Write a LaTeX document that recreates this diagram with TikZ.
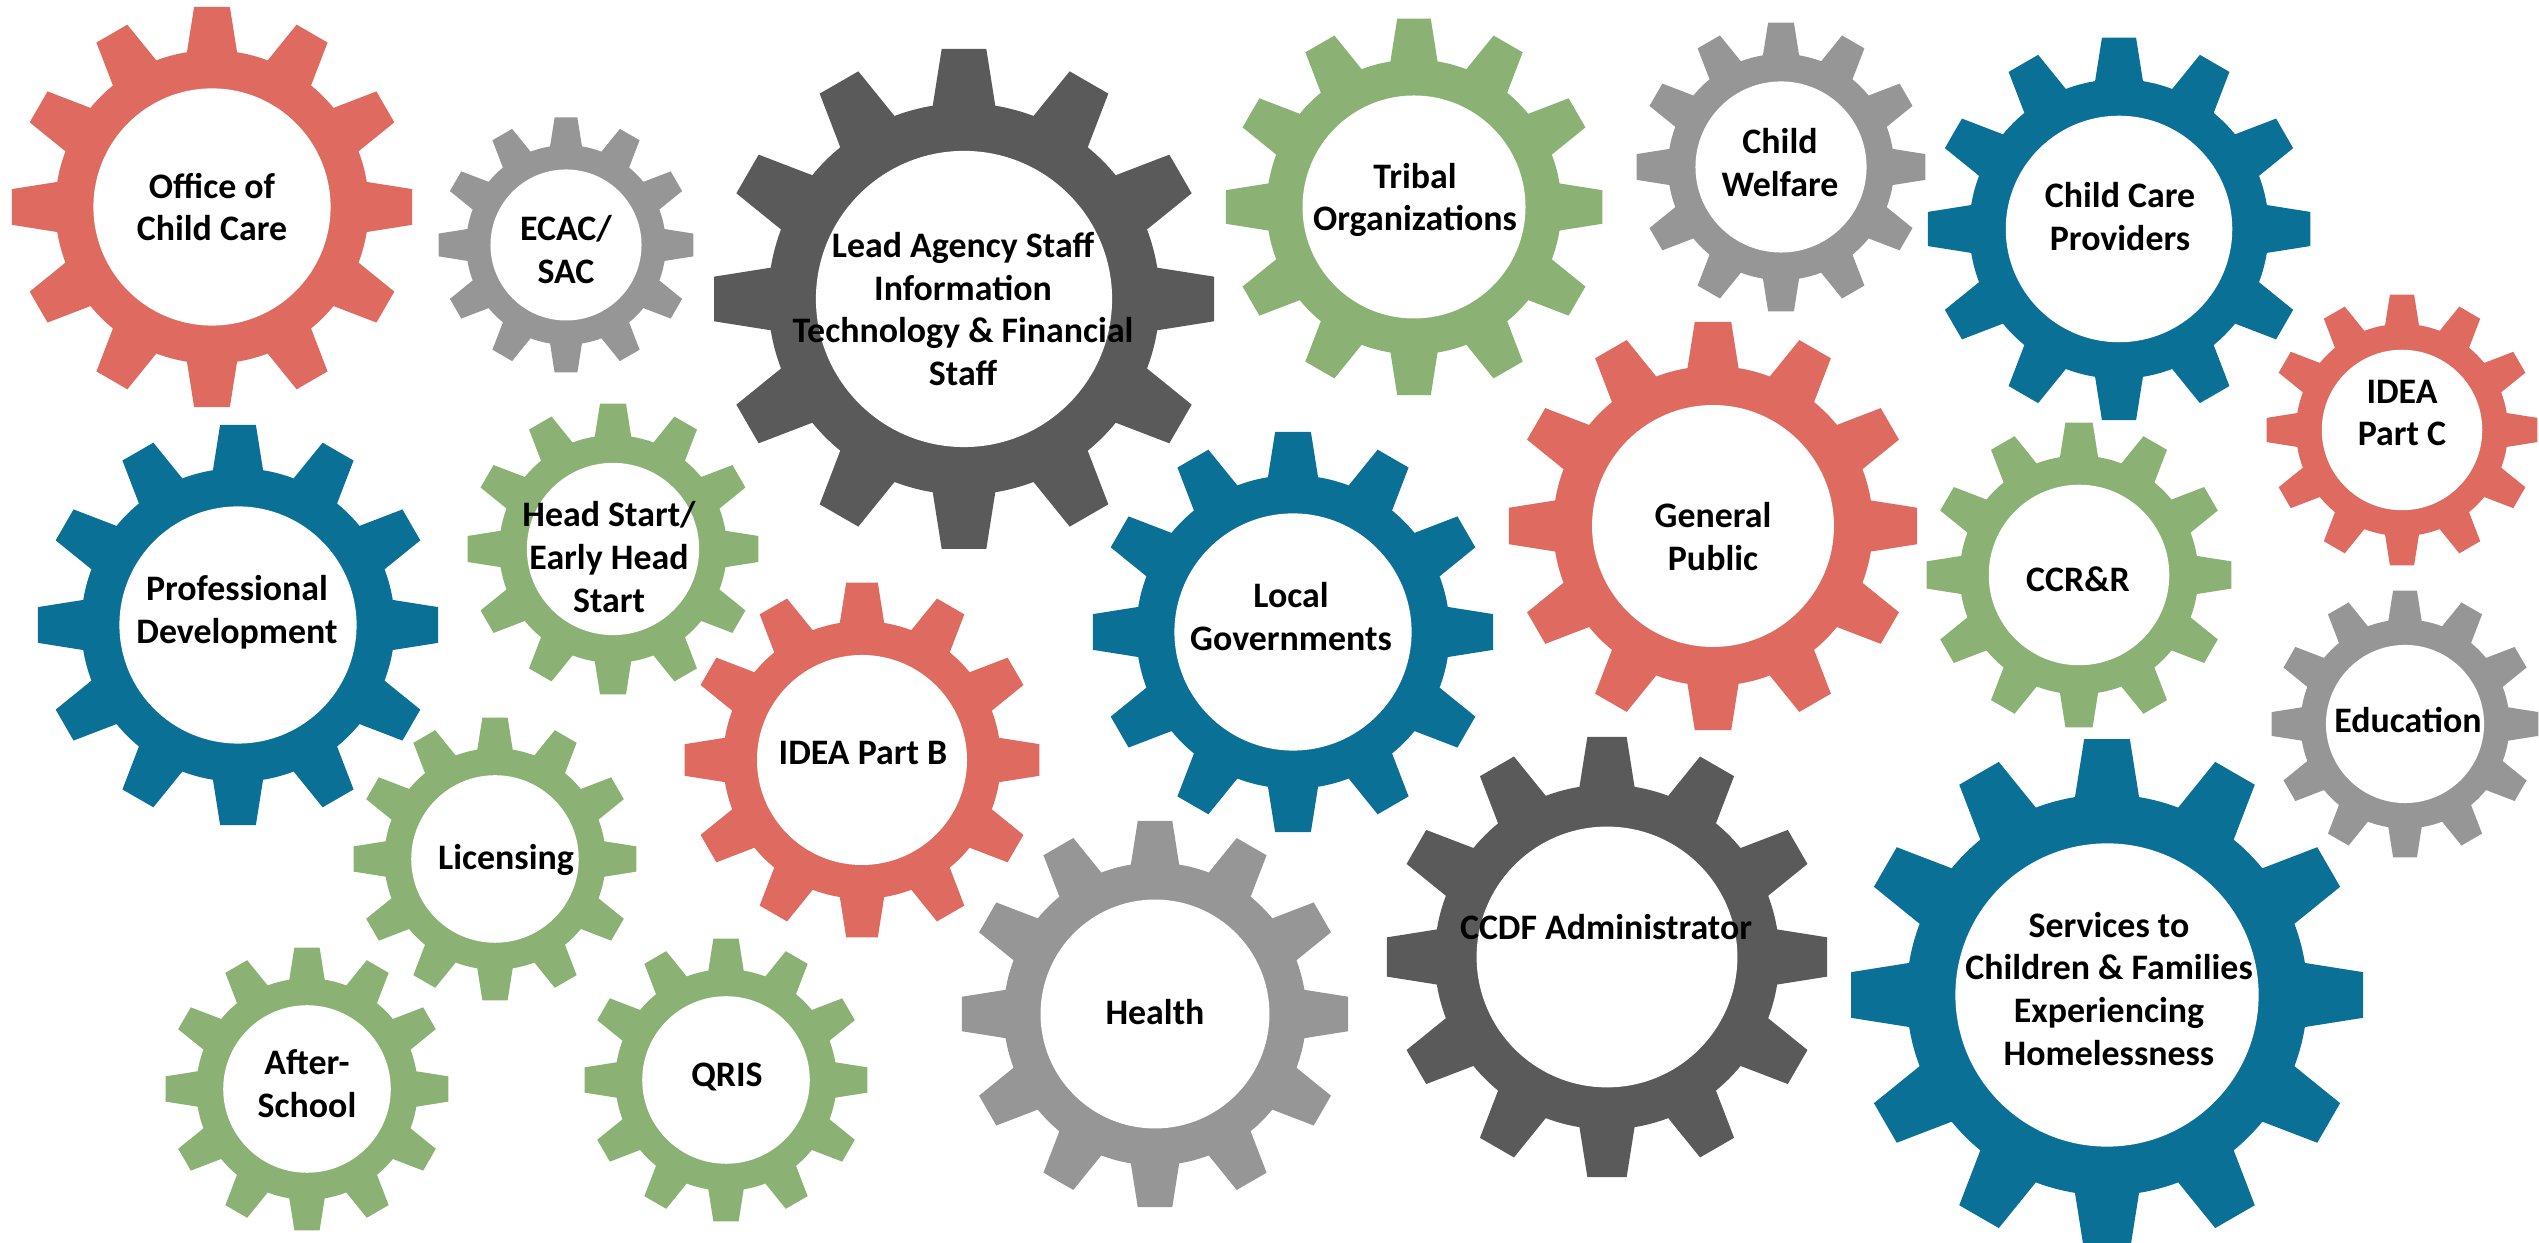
\documentclass[tikz,border=0pt]{standalone}
\usepackage{fontspec}
\setmainfont{Carlito}
\definecolor{cogred}{RGB}{222,106,96}
\definecolor{coggray}{RGB}{150,150,150}
\definecolor{cogdark}{RGB}{90,90,90}
\definecolor{coggreen}{RGB}{139,177,116}
\definecolor{cogblue}{RGB}{10,112,149}
\newcommand{\cog}[4]{%
  \fill[#4,shift={(#1,#2)}] (-9.2:{0.78*#3})
    \foreach \a in {0,30,...,330} {
      -- ({\a-5.1}:#3) -- ({\a+5.1}:#3) -- ({\a+9.2}:{0.78*#3})
      arc[start angle={\a+9.2},end angle={\a+20.8},radius={0.78*#3}]
    } -- cycle;
  \fill[white] (#1,#2) circle[radius={0.59*#3}];
}
\tikzset{lbl/.style={font=\bfseries\fontsize{10.2}{12.2}\selectfont,align=center,inner sep=0pt}}
\begin{document}
\begin{tikzpicture}[x=0.01cm,y=0.01cm]
  \useasboundingbox (0,0) rectangle (2539,1243);
  \cog{212}{1036}{201}{cogred}
  \cog{566}{998}{128}{coggray}
  \cog{964}{944}{251}{cogdark}
  \cog{1414}{1036}{189}{coggreen}
  \cog{1781}{1076}{145}{coggray}
  \cog{2119}{1014}{192}{cogblue}
  \cog{2402}{813}{136}{cogred}
  \cog{238}{618}{201}{cogblue}
  \cog{613}{694}{146}{coggreen}
  \cog{862}{483}{178}{cogred}
  \cog{1293}{611}{201}{cogblue}
  \cog{1713}{717}{205}{cogred}
  \cog{2079}{668}{153}{coggreen}
  \cog{2405}{519}{134}{coggray}
  \cog{495}{384}{142}{coggreen}
  \cog{307}{154}{142}{coggreen}
  \cog{726}{163}{142}{coggreen}
  \cog{1155}{229}{194}{coggray}
  \cog{1607}{286}{221}{cogdark}
  \cog{2107}{248}{257}{cogblue}

  \node[lbl] (occ) at (212,1036) {Office of\\Child Care};
  \node[lbl] (ecac) at (566,993) {ECAC/\\SAC};
  \node[lbl] (lead) at (963,934) {Lead Agency Staff\\Information\\Technology \& Financial\\Staff};
  \node[lbl] (tribal) at (1415,1043) {Tribal\\Organizations};
  \node[lbl] (welfare) at (1780,1080) {Child\\Welfare};
  \node[lbl] (providers) at (2120,1026) {Child Care\\Providers};
  \node[lbl] (ideac) at (2402,830) {IDEA\\Part C};
  \node[lbl] (profdev) at (237,631) {Professional\\Development};
  \node[lbl] (headstart) at (609,686) {Head Start/\\Early Head\\Start};
  \node[lbl] (ideab) at (863,490) {IDEA Part B};
  \node[lbl] (localgov) at (1291,626) {Local\\Governments};
  \node[lbl] (public) at (1713,706) {General\\Public};
  \node[lbl] (ccrr) at (2078,664) {CCR\&R};
  \node[lbl] (educ) at (2408,523) {Education};
  \node[lbl] (licensing) at (506,383) {Licensing};
  \node[lbl] (afterschool) at (307,159) {After-\\School};
  \node[lbl] (qris) at (727,166) {QRIS};
  \node[lbl] (health) at (1155,231) {Health};
  \node[lbl] (ccdf) at (1606,316) {CCDF Administrator};
  \node[lbl] (homeless) at (2109,254) {Services to\\Children \& Families\\Experiencing\\Homelessness};
\end{tikzpicture}
\end{document}
